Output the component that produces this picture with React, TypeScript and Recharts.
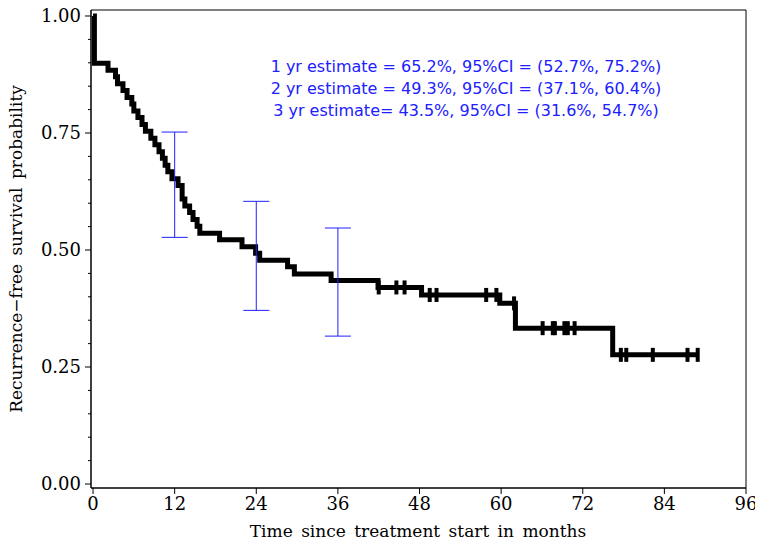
import {
  ComposedChart,
  Line,
  Scatter,
  XAxis,
  YAxis,
  ErrorBar,
  ReferenceArea,
  Customized,
} from "recharts";

// Kaplan-Meier step curve: time (months) and survival after the event at that time
const stepTimes = [
  0, 0.2, 2.2, 3.3, 3.6, 4.4, 5.0, 5.7, 6.0, 6.6, 7.2, 7.7, 8.5, 9.1, 9.7, 10.2,
  10.6, 11.0, 11.6, 12.5, 13.1, 13.5, 14.2, 14.7, 15.3, 15.7, 18.6, 21.9, 23.9,
  24.5, 28.6, 29.6, 35.0, 41.9, 48.3, 59.8, 62.1, 76.4, 88.9,
];
const stepSurv = [
  1.0, 0.899, 0.884, 0.87, 0.855, 0.841, 0.826, 0.812, 0.797, 0.783, 0.768, 0.754,
  0.739, 0.725, 0.71, 0.696, 0.681, 0.667, 0.652, 0.638, 0.609, 0.594, 0.58, 0.565,
  0.551, 0.536, 0.522, 0.507, 0.493, 0.478, 0.464, 0.449, 0.435, 0.42, 0.404, 0.386,
  0.333, 0.276, 0.276,
];

// censored observations
const censorTimes = [
  42.0, 44.6, 45.8, 49.5, 50.5, 57.8, 59.3, 61.9, 66.1, 67.6, 67.9, 69.3, 69.8,
  70.8, 77.6, 78.4, 82.3, 87.4, 88.9,
];
const censorSurv = [
  0.42, 0.42, 0.42, 0.404, 0.404, 0.404, 0.404, 0.386, 0.333, 0.333, 0.333, 0.333,
  0.333, 0.333, 0.276, 0.276, 0.276, 0.276, 0.276,
];

// 1, 2, 3 year estimates with 95% CI
const ciMonths = [12, 24, 36];
const ciEstimate = [0.652, 0.493, 0.435];
const ciLower = [0.527, 0.371, 0.316];
const ciUpper = [0.752, 0.604, 0.547];

const xTicks = [0, 12, 24, 36, 48, 60, 72, 84, 96];
const yMajorTicks = [0, 0.25, 0.5, 0.75, 1];
const yMinorTicks = [
  0, 0.05, 0.1, 0.15, 0.2, 0.25, 0.3, 0.35, 0.4, 0.45, 0.5, 0.55, 0.6, 0.65, 0.7,
  0.75, 0.8, 0.85, 0.9, 0.95, 1,
];

const annotationLines = [
  "1 yr estimate = 65.2%, 95%CI = (52.7%, 75.2%)",
  "2 yr estimate = 49.3%, 95%CI = (37.1%, 60.4%)",
  "3 yr estimate= 43.5%, 95%CI = (31.6%, 54.7%)",
];

const xLabel = "Time since treatment start in months";
const yLabel = "Recurrence\u2212free survival probability";

const curveData = stepTimes.map((t, i) => ({ time: t, surv: stepSurv[i] }));
const censorData = censorTimes.map((t, i) => ({ time: t, surv: censorSurv[i] }));
const ciData = ciMonths.map((t, i) => ({
  time: t,
  surv: ciEstimate[i],
  err: [ciEstimate[i] - ciLower[i], ciUpper[i] - ciEstimate[i]],
}));

const BLUE = "#2020ff";
const SERIF = "'DejaVu Serif', 'Liberation Serif', serif";

const YTick = (props: any) => {
  const { x, y, payload } = props;
  const v = payload.value;
  const major = yMajorTicks.some((t) => Math.abs(t - v) < 1e-6);
  return (
    <g>
      <line x1={x - (major ? 6 : 3)} x2={x} y1={y} y2={y} stroke="#000" />
      {major && (
        <text
          x={x - 10}
          y={y}
          dy="0.35em"
          textAnchor="end"
          fontSize={18}
          fontFamily={SERIF}
          fill="#000"
        >
          {v.toFixed(2)}
        </text>
      )}
    </g>
  );
};

const CensorMark = (props: any) => (
  <rect x={props.cx - 2} y={props.cy - 7} width={4} height={14} fill="#000" />
);

const Texts = () => (
  <g>
    {annotationLines.map((s, i) => (
      <text
        key={i}
        x={466}
        y={72 + i * 22}
        textAnchor="middle"
        fontSize={16}
        fontFamily="'DejaVu Sans', Verdana, sans-serif"
        fill={BLUE}
      >
        {s}
      </text>
    ))}
    <text
      x={418}
      y={537}
      textAnchor="middle"
      fontSize={17}
      fontFamily={SERIF}
      fill="#000"
      wordSpacing={3}
    >
      {xLabel}
    </text>
    <text
      transform="translate(22, 249) rotate(-90)"
      textAnchor="middle"
      fontSize={17}
      fontFamily={SERIF}
      fill="#000"
      wordSpacing={3}
    >
      {yLabel}
    </text>
  </g>
);

export default function App() {
  return (
    <div style={{ margin: "-8px 0 0 -8px", width: 763, height: 548 }}>
      <ComposedChart
        width={763}
        height={548}
        margin={{ top: 10, right: 17, left: 0, bottom: 0 }}
      >
        <XAxis
          type="number"
          dataKey="time"
          domain={[-0.3, 96]}
          ticks={xTicks}
          interval={0}
          allowDataOverflow
          height={60}
          tickSize={6}
          tickMargin={3}
          stroke="#000"
          tick={{ fontSize: 18, fontFamily: SERIF, fill: "#000" }}
        />
        <YAxis
          type="number"
          dataKey="surv"
          domain={[-0.0085, 1.0128]}
          ticks={yMinorTicks}
          interval={0}
          allowDataOverflow
          width={91}
          tickSize={0}
          tickMargin={0}
          tickLine={false}
          stroke="#000"
          tick={<YTick />}
        />
        <ReferenceArea
          x1={-0.3}
          x2={96}
          y1={-0.0085}
          y2={1.0128}
          fill="none"
          stroke="#000"
          strokeWidth={1}
        />
        <Line
          data={curveData}
          dataKey="surv"
          type="stepAfter"
          stroke="#000"
          strokeWidth={5}
          dot={false}
          isAnimationActive={false}
        />
        <Scatter
          data={censorData}
          dataKey="surv"
          shape={<CensorMark />}
          isAnimationActive={false}
        />
        <Scatter
          data={ciData}
          dataKey="surv"
          shape={() => <g />}
          isAnimationActive={false}
        >
          <ErrorBar
            dataKey="err"
            direction="y"
            width={13}
            stroke={BLUE}
            strokeWidth={1}
            isAnimationActive={false}
          />
        </Scatter>
        <Customized component={Texts} />
      </ComposedChart>
    </div>
  );
}
